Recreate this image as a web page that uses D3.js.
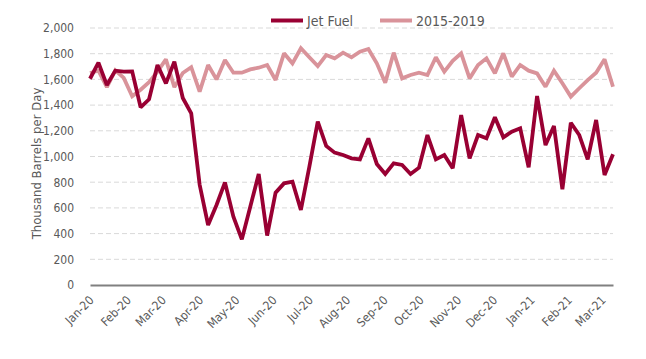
<!DOCTYPE html>
<html>
<head>
<meta charset="utf-8">
<script src="https://cdn.jsdelivr.net/npm/d3@7"></script>
<style>
  html, body { margin: 0; padding: 0; background: #fff; }
  svg text { font-family: "Liberation Sans Narrow", "DejaVu Sans Condensed", "Roboto", sans-serif; }
</style>
</head>
<body>
<svg id="chart" width="646" height="359"></svg>
<script>
// ---- Data ----
const seriesNames = ["Jet Fuel", "2015-2019"];
const startDate = "2020-01-03"; // first weekly observation
const jetFuel = [1605, 1730, 1556, 1668, 1660, 1662, 1383, 1445, 1712, 1569,
  1738, 1455, 1336, 780, 467, 623, 799, 532, 355, 609,
  864, 385, 718, 791, 804, 584, 920, 1271, 1082, 1030,
  1012, 986, 978, 1141, 942, 864, 947, 934, 864, 913,
  1167, 978, 1012, 908, 1323, 986, 1167, 1141, 1305, 1149,
  1193, 1219, 916, 1471, 1089, 1237, 745, 1263, 1167, 978,
  1284, 856, 1017];
const avg2015_2019 = [1650, 1668, 1540, 1670, 1612, 1468, 1520, 1578, 1660, 1756,
  1540, 1650, 1695, 1505, 1712, 1600, 1751, 1652, 1652, 1678,
  1691, 1712, 1595, 1803, 1725, 1842, 1772, 1704, 1790, 1764,
  1808, 1772, 1816, 1837, 1725, 1574, 1808, 1608, 1634, 1652,
  1634, 1772, 1660, 1745, 1803, 1608, 1712, 1764, 1647, 1803,
  1621, 1712, 1668, 1647, 1543, 1668, 1570, 1466, 1531, 1595,
  1652, 1756, 1543];
const yTicks = [0, 200, 400, 600, 800, 1000, 1200, 1400, 1600, 1800, 2000];
const yTitle = "Thousand Barrels per Day";

// ---- Setup ----
const parse = d3.timeParse("%Y-%m-%d");
const t0 = parse(startDate);
const dates = jetFuel.map((_, i) => d3.timeDay.offset(t0, 7 * i));
const colors = ["#990033", "#d9939a"];

const margin = { left: 90, right: 33, top: 28, bottom: 74 };
const W = 646, H = 359;
const svg = d3.select("#chart");

const x = d3.scaleTime()
  .domain([dates[0], dates[dates.length - 1]])
  .range([margin.left, W - margin.right]);
const y = d3.scaleLinear().domain([0, 2000]).range([H - margin.bottom, margin.top]);

// gridlines
svg.append("g")
  .selectAll("line")
  .data(yTicks.filter(d => d > 0))
  .join("line")
  .attr("x1", margin.left).attr("x2", W - margin.right)
  .attr("y1", d => y(d)).attr("y2", d => y(d))
  .attr("stroke", "#d9d9d9").attr("stroke-width", 1)
  .attr("stroke-dasharray", "5,3");

// y axis labels
const yAxis = d3.axisLeft(y).tickValues(yTicks).tickFormat(d3.format(",")).tickSize(0).tickPadding(16);
const gy = svg.append("g").attr("transform", `translate(${margin.left},0)`).call(yAxis);
gy.select(".domain").remove();
gy.selectAll("text").attr("fill", "#595959").style("font-size", "12px");

// x axis
const monthTicks = d3.range(15).map(m => d3.timeMonth.offset(t0, m));
const xAxis = d3.axisBottom(x).tickValues(monthTicks).tickFormat(d3.timeFormat("%b-%y")).tickSize(0);
const gx = svg.append("g").attr("transform", `translate(0,${y(0)})`).call(xAxis);
gx.select(".domain").attr("stroke", "#808080").attr("stroke-width", 2.2);
gx.selectAll("text")
  .attr("fill", "#595959").style("font-size", "12px")
  .attr("text-anchor", "end")
  .attr("dy", null).attr("y", 0)
  .attr("transform", "translate(4,16) rotate(-45)");

// lines
const line = d3.line().x((d, i) => x(dates[i])).y(d => y(d));
[avg2015_2019, jetFuel].forEach((s, k) => {
  svg.append("path")
    .datum(s)
    .attr("d", line)
    .attr("fill", "none")
    .attr("stroke", k === 0 ? colors[1] : colors[0])
    .attr("stroke-width", 3.8)
    .attr("stroke-linejoin", "miter")
    .attr("stroke-miterlimit", 2);
});

// y title
svg.append("text")
  .attr("transform", `translate(41,${(y(0) + y(2000)) / 2 + 7}) rotate(-90)`)
  .attr("text-anchor", "middle")
  .attr("fill", "#595959").style("font-size", "13px")
  .text(yTitle);

// legend
const legend = svg.append("g");
const legendItems = [{ name: seriesNames[0], color: colors[0], x: 271 }, { name: seriesNames[1], color: colors[1], x: 380 }];
legendItems.forEach(it => {
  legend.append("line").attr("x1", it.x).attr("x2", it.x + 32).attr("y1", 20.5).attr("y2", 20.5)
    .attr("stroke", it.color).attr("stroke-width", 4);
  legend.append("text").attr("x", it.x + 36).attr("y", 25.5)
    .attr("fill", "#595959").style("font-size", "14px").text(it.name);
});
</script>
</body>
</html>
